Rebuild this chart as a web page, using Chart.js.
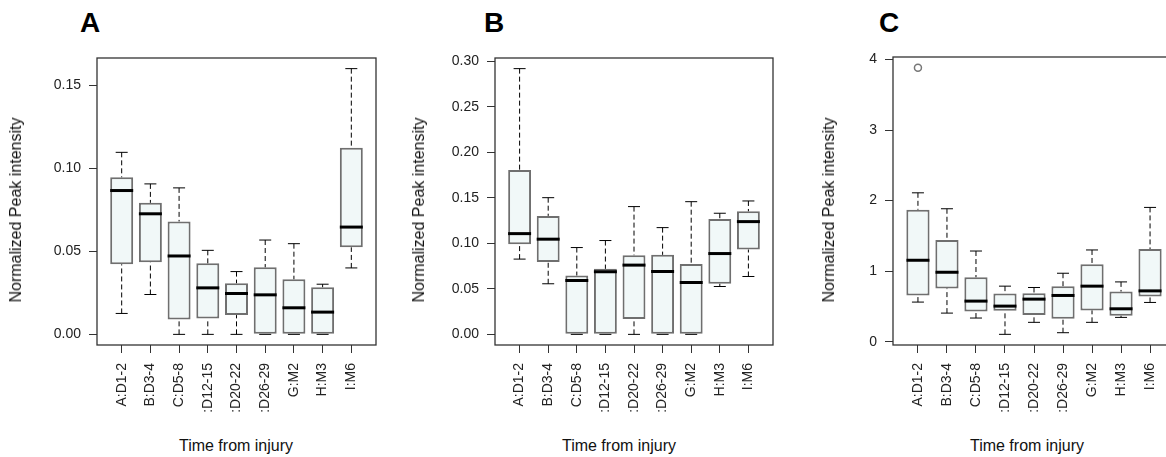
<!DOCTYPE html>
<html>
<head>
<meta charset="utf-8">
<title>Normalized peak intensity by time from injury</title>
<script src="https://cdn.jsdelivr.net/npm/chart.js@4.4.1/dist/chart.umd.min.js"></script>
<style>
  html, body { margin: 0; padding: 0; background: #fff; width: 1166px; height: 457px; overflow: hidden; }
  body { position: relative; font-family: "Liberation Sans", Arial, sans-serif; }
  canvas { position: absolute; top: 0; }
  .letter { position: absolute; top: 9px; font: bold 28px/28px "Liberation Sans", Arial, sans-serif; color: #000; }
  .xtitle { position: absolute; top: 438px; font-size: 16px; line-height: 16px; color: #111;
            transform: translateX(-50%); white-space: nowrap; }
  .ytitle { position: absolute; top: 210px; font-size: 16px; line-height: 16px; color: #111;
            transform: translate(-50%, -50%) rotate(-90deg); white-space: nowrap; }
</style>
</head>
<body>
<div class="letter" style="left:80px">A</div>
<div class="letter" style="left:484px">B</div>
<div class="letter" style="left:879px">C</div>

<canvas id="chartA" width="390" height="413" style="left:0px"></canvas>
<canvas id="chartB" width="390" height="413" style="left:390px"></canvas>
<canvas id="chartC" width="400" height="413" style="left:780px"></canvas>

<div class="ytitle" style="left:16px">Normalized Peak intensity</div>
<div class="ytitle" style="left:419px">Normalized Peak intensity</div>
<div class="ytitle" style="left:829px">Normalized Peak intensity</div>

<div class="xtitle" style="left:236px">Time from injury</div>
<div class="xtitle" style="left:619px">Time from injury</div>
<div class="xtitle" style="left:1027px">Time from injury</div>

<script>
const categories = ["A:D1-2", "B:D3-4", "C:D5-8", "D:D12-15", "E:D20-22", "F:D26-29", "G:M2", "H:M3", "I:M6"];

// Panel A: lower whisker, Q1, median, Q3, upper whisker
const lowA  = [0.0126, 0.024, 0, 0, 0, 0, 0, 0, 0.040];
const q1A   = [0.0422, 0.0434, 0.009, 0.0096, 0.0116, 0, 0, 0, 0.0524];
const medA  = [0.0866, 0.0726, 0.0472, 0.028, 0.0246, 0.0238, 0.016, 0.0134, 0.0646];
const q3A   = [0.0946, 0.0792, 0.068, 0.0428, 0.0308, 0.0404, 0.0332, 0.0284, 0.1124];
const highA = [0.1096, 0.0906, 0.0882, 0.0506, 0.0378, 0.0568, 0.0546, 0.0302, 0.160];
const outliersA = [];
const yTicksA = [0, 0.05, 0.10, 0.15];

// Panel B
const lowB  = [0.0827, 0.0556, 0, 0, 0, 0, 0, 0.0526, 0.0636];
const q1B   = [0.0991, 0.0794, 0, 0, 0.0169, 0, 0, 0.0556, 0.0932];
const medB  = [0.1107, 0.1046, 0.0592, 0.0688, 0.0761, 0.0691, 0.057, 0.0888, 0.1239];
const q3B   = [0.1806, 0.1302, 0.0647, 0.072, 0.087, 0.0874, 0.0772, 0.1269, 0.1353];
const highB = [0.292, 0.1502, 0.0954, 0.1031, 0.1404, 0.1173, 0.1458, 0.1331, 0.1466];
const outliersB = [];
const yTicksB = [0, 0.05, 0.10, 0.15, 0.20, 0.25, 0.30];

// Panel C
const lowC  = [0.561, 0.405, 0.335, 0.104, 0.274, 0.127, 0.274, 0.344, 0.556];
const q1C   = [0.655, 0.754, 0.429, 0.438, 0.377, 0.325, 0.443, 0.367, 0.641];
const medC  = [1.154, 0.984, 0.575, 0.504, 0.603, 0.655, 0.787, 0.466, 0.72];
const q3C   = [1.87, 1.441, 0.914, 0.683, 0.688, 0.787, 1.097, 0.711, 1.314];
const highC = [2.11, 1.884, 1.285, 0.787, 0.768, 0.970, 1.30, 0.847, 1.903];
const outliersC = [{ cat: 1, value: 3.884 }];
const yTicksC = [0, 1, 2, 3, 4];

// canvas geometry (page pixels)
const CANVAS_HEIGHT = 413;
const PLOT_BOTTOM = 345;
const panels = [
  { id: "chartA", left: 0,   width: 390, plotLeft: 97,  plotRight: 376,  plotTop: 58, decimals: 2,
    stats: [lowA, q1A, medA, q3A, highA], outliers: outliersA, yTicks: yTicksA },
  { id: "chartB", left: 390, width: 390, plotLeft: 495, plotRight: 773,  plotTop: 58, decimals: 2,
    stats: [lowB, q1B, medB, q3B, highB], outliers: outliersB, yTicks: yTicksB },
  { id: "chartC", left: 780, width: 400, plotLeft: 893, plotRight: 1175, plotTop: 57, decimals: 0,
    stats: [lowC, q1C, medC, q3C, highC], outliers: outliersC, yTicks: yTicksC }
];

Chart.defaults.font.family = '"Liberation Sans", Arial, sans-serif';
Chart.defaults.font.size = 14;
Chart.defaults.color = "#222";

// box around the plotting region, drawn over the boxes like R's box()
const framePlugin = {
  id: "frame",
  afterDatasetsDraw(chart) {
    const { ctx, chartArea: a } = chart;
    ctx.save();
    ctx.strokeStyle = "#333";
    ctx.lineWidth = 1.3;
    ctx.strokeRect(a.left, a.top, a.right - a.left, a.bottom - a.top);
    ctx.restore();
  }
};

function drawPanel(p) {
  const [low, q1, med, q3, high] = p.stats;
  const xs = categories.map((c, i) => i + 1);

  // R style axis limits: 4% beyond the data range
  const all = low.concat(high, p.outliers.map(o => o.value));
  const lo = Math.min(...all), hi = Math.max(...all);
  const pad = (hi - lo) * 0.04;
  const xPad = categories.length * 0.04;

  // dashed whiskers run from the whisker end back to the box
  const whiskers = [];
  xs.forEach((x, i) => {
    whiskers.push({ x, y: high[i] }, { x, y: q3[i] }, { x, y: null });
    whiskers.push({ x, y: low[i] }, { x, y: q1[i] }, { x, y: null });
  });
  const caps = [];
  xs.forEach((x, i) => caps.push({ x, y: low[i] }, { x, y: high[i] }));

  const tickGrid = { drawOnChartArea: false, drawTicks: true, tickLength: 8, tickColor: "#333", offset: false };

  new Chart(document.getElementById(p.id), {
    type: "bar",
    data: {
      datasets: [
        {
          type: "line", showLine: false,
          data: xs.map((x, i) => ({ x, y: med[i] })),
          pointStyle: "line", pointRadius: 11.5, pointBorderWidth: 3, pointBorderColor: "#000"
        },
        {
          type: "line", showLine: false,
          data: caps,
          pointStyle: "line", pointRadius: 6, pointBorderWidth: 1, pointBorderColor: "#000"
        },
        {
          type: "line", showLine: false,
          data: p.outliers.map(o => ({ x: o.cat, y: o.value })),
          pointStyle: "circle", pointRadius: 3.5, pointBorderWidth: 1.5,
          pointBorderColor: "#777", pointBackgroundColor: "#fff"
        },
        {
          type: "line",
          data: whiskers,
          borderColor: "#000", borderWidth: 1, borderDash: [5, 3],
          pointRadius: 0, spanGaps: false
        },
        {
          type: "bar",
          data: xs.map((x, i) => ({ x, y: [q1[i], q3[i]] })),
          backgroundColor: "#f1f8f8", borderColor: "#6f6f6f", borderWidth: 2,
          borderSkipped: false, barPercentage: 0.8, categoryPercentage: 1, grouped: false
        }
      ]
    },
    options: {
      responsive: false,
      animation: false,
      devicePixelRatio: 1,
      events: [],
      layout: {
        autoPadding: false,
        padding: { top: p.plotTop, right: p.left + p.width - p.plotRight, left: 0, bottom: 0 }
      },
      plugins: { legend: { display: false }, tooltip: { enabled: false } },
      scales: {
        x: {
          type: "linear",
          bounds: "data",
          offset: false,
          min: 0.5 - xPad,
          max: categories.length + 0.5 + xPad,
          afterBuildTicks: axis => { axis.ticks = xs.map(v => ({ value: v })); },
          afterFit: axis => { axis.height = CANVAS_HEIGHT - PLOT_BOTTOM; },
          ticks: {
            autoSkip: false, minRotation: 90, maxRotation: 90, padding: 10,
            callback: (v, i) => categories[i]
          },
          grid: tickGrid,
          border: { display: false }
        },
        y: {
          type: "linear",
          bounds: "data",
          min: lo - pad,
          max: hi + pad,
          afterBuildTicks: axis => { axis.ticks = p.yTicks.map(v => ({ value: v })); },
          afterFit: axis => { axis.width = p.plotLeft - p.left; },
          ticks: { padding: 8, callback: v => v.toFixed(p.decimals) },
          grid: tickGrid,
          border: { display: false }
        }
      }
    },
    plugins: [framePlugin]
  });
}

panels.forEach(drawPanel);
</script>
</body>
</html>
